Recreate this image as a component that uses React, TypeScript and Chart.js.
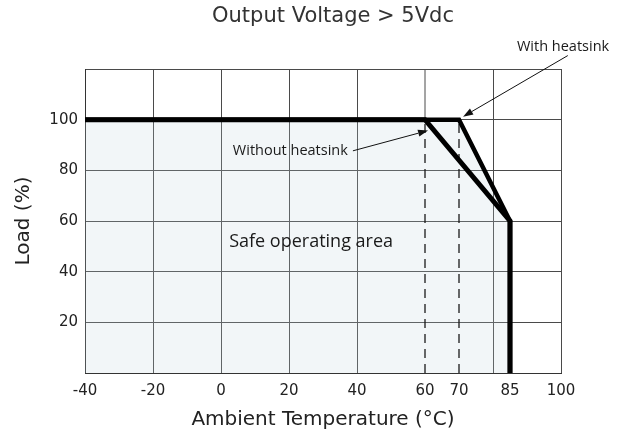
import { useEffect, useRef } from "react";
import { Chart, registerables } from "chart.js";

Chart.register(...registerables);

// ---- data ----
const TITLE = "Output Voltage > 5Vdc";
const X_TITLE = "Ambient Temperature (°C)";
const Y_TITLE = "Load (%)";
const X_MIN = -40;
const X_MAX = 100;
const Y_MIN = 0;
const Y_MAX = 120;
const xTickValues = [-40, -20, 0, 20, 40, 60, 70, 80, 85, 100];
const xUnlabeled = [80];
const xNoGrid = [60, 70, 85];
const yTickValues = [0, 20, 40, 60, 80, 100, 120];
const yUnlabeled = [0, 120];

const withoutHeatsinkX = [-40, 60, 85, 85];
const withoutHeatsinkY = [100, 100, 60, 0];
const withHeatsinkX = [-40, 70, 85, 85];
const withHeatsinkY = [100, 100, 60, 0];
const safeAreaX = [-40, 70, 85, 85];
const safeAreaY = [100, 100, 60, 0];
const dashedX = [60, 70];
const dashedFrom = 0;
const dashedTo = 100;
const gridStubX = 60;
const gridStubY = [100, 120];

const noteTexts = ["Without heatsink", "With heatsink", "Safe operating area"];
const noteX = [20.4, 100.6, 26.5];
const noteY = [87.7, 128.9, 51.8];
const noteSize = [14.5, 14.5, 18];
const arrowFromX = [38.8, 102];
const arrowFromY = [87.7, 125.3];
const arrowToX = [60.9, 71.2];
const arrowToY = [95.7, 101.2];

const pts = (xs: number[], ys: number[]) => xs.map((x, i) => ({ x, y: ys[i] }));

const annotationPlugin = {
  id: "annotations",
  afterDatasetsDraw(chart: any) {
    const { ctx, scales } = chart;
    const sx = scales.x;
    const sy = scales.y;
    ctx.save();
    ctx.fillStyle = "#1a1a1a";
    ctx.textAlign = "center";
    ctx.textBaseline = "middle";
    noteTexts.forEach((t, i) => {
      ctx.font = `${noteSize[i]}px "Open Sans"`;
      ctx.fillText(t, sx.getPixelForValue(noteX[i]), sy.getPixelForValue(noteY[i]));
    });
    ctx.strokeStyle = "#111";
    ctx.fillStyle = "#111";
    ctx.lineWidth = 1;
    arrowFromX.forEach((fx, i) => {
      const x1 = sx.getPixelForValue(fx);
      const y1 = sy.getPixelForValue(arrowFromY[i]);
      const x2 = sx.getPixelForValue(arrowToX[i]);
      const y2 = sy.getPixelForValue(arrowToY[i]);
      const ang = Math.atan2(y2 - y1, x2 - x1);
      const len = 10;
      const half = 3.5;
      const bx = x2 - len * Math.cos(ang);
      const by = y2 - len * Math.sin(ang);
      ctx.beginPath();
      ctx.moveTo(x1, y1);
      ctx.lineTo(bx, by);
      ctx.stroke();
      ctx.beginPath();
      ctx.moveTo(x2, y2);
      ctx.lineTo(bx + half * Math.sin(ang), by - half * Math.cos(ang));
      ctx.lineTo(bx - half * Math.sin(ang), by + half * Math.cos(ang));
      ctx.closePath();
      ctx.fill();
    });
    ctx.restore();
  },
  afterDraw(chart: any) {
    const { ctx } = chart;
    ctx.save();
    ctx.fillStyle = "#333";
    ctx.font = '21px "DejaVu Sans"';
    ctx.textAlign = "center";
    ctx.textBaseline = "middle";
    ctx.fillText(TITLE, 333, 17);
    ctx.restore();
  },
};

export default function App() {
  const ref = useRef<HTMLCanvasElement | null>(null);
  useEffect(() => {
    if (!ref.current) return;
    const chart = new Chart(ref.current, {
      type: "line",
      data: {
        datasets: [
          {
            data: pts(withoutHeatsinkX, withoutHeatsinkY),
            borderColor: "#000",
            borderWidth: 5,
            borderJoinStyle: "miter",
            pointRadius: 0,
            fill: false,
            order: 1,
          },
          {
            data: pts(withHeatsinkX, withHeatsinkY),
            borderColor: "#000",
            borderWidth: 4.5,
            borderJoinStyle: "miter",
            pointRadius: 0,
            fill: false,
            order: 1,
          },
          ...dashedX.map((dx) => ({
            data: pts([dx, dx], [dashedFrom, dashedTo]),
            borderColor: "#1a1a1a",
            borderWidth: 1.3,
            borderDash: [9, 6],
            pointRadius: 0,
            fill: false,
            order: 5,
          })),
          {
            data: pts([gridStubX, gridStubX], gridStubY),
            borderColor: "#4a4a4a",
            borderWidth: 1,
            pointRadius: 0,
            fill: false,
            order: 6,
          },
          {
            data: pts(safeAreaX, safeAreaY),
            borderWidth: 0,
            borderColor: "rgba(0,0,0,0)",
            backgroundColor: "rgba(190,212,220,0.2)",
            pointRadius: 0,
            fill: "origin",
            order: 10,
          },
        ] as any,
      },
      options: {
        animation: false,
        responsive: false,
        events: [],
        layout: { padding: { top: 69, right: 63, bottom: 0, left: 0 } },
        plugins: {
          legend: { display: false },
          tooltip: { enabled: false },
          title: { display: false },
        },
        scales: {
          x: {
            type: "linear",
            min: X_MIN,
            max: X_MAX,
            afterBuildTicks: (scale: any) => {
              scale.ticks = xTickValues.map((v) => ({ value: v }));
            },
            afterFit: (scale: any) => {
              scale.height = 61;
            },
            grid: {
              color: (c: any) =>
                c.tick && xNoGrid.includes(c.tick.value) ? "rgba(0,0,0,0)" : "#4a4a4a",
              lineWidth: 1,
              drawTicks: false,
            },
            border: { color: "#333", width: 1 },
            ticks: {
              autoSkip: false,
              maxRotation: 0,
              padding: 9,
              color: "#222",
              font: { family: "DejaVu Sans", size: 15 },
              callback: (v: any) => (xUnlabeled.includes(Number(v)) ? "" : String(v)),
            },
            title: {
              display: true,
              text: X_TITLE,
              color: "#222",
              font: { family: "DejaVu Sans", size: 20 },
              padding: { top: 0, bottom: 2 },
            },
          },
          y: {
            type: "linear",
            min: Y_MIN,
            max: Y_MAX,
            afterBuildTicks: (scale: any) => {
              scale.ticks = yTickValues.map((v) => ({ value: v }));
            },
            afterFit: (scale: any) => {
              scale.width = 85;
            },
            grid: { color: "#4a4a4a", lineWidth: 1, drawTicks: false },
            border: { color: "#333", width: 1 },
            ticks: {
              padding: 7,
              color: "#222",
              font: { family: "DejaVu Sans", size: 15 },
              callback: (v: any) => (yUnlabeled.includes(Number(v)) ? "" : String(v)),
            },
            title: {
              display: true,
              text: Y_TITLE,
              color: "#222",
              font: { family: "DejaVu Sans", size: 20 },
              padding: { top: 12, bottom: 0 },
            },
          },
        },
      } as any,
      plugins: [annotationPlugin],
    });
    return () => chart.destroy();
  }, []);
  return (
    <div style={{ position: "fixed", left: 0, top: 0, width: 624, height: 434, background: "#fff" }}>
      <canvas ref={ref} width={624} height={434} />
    </div>
  );
}
